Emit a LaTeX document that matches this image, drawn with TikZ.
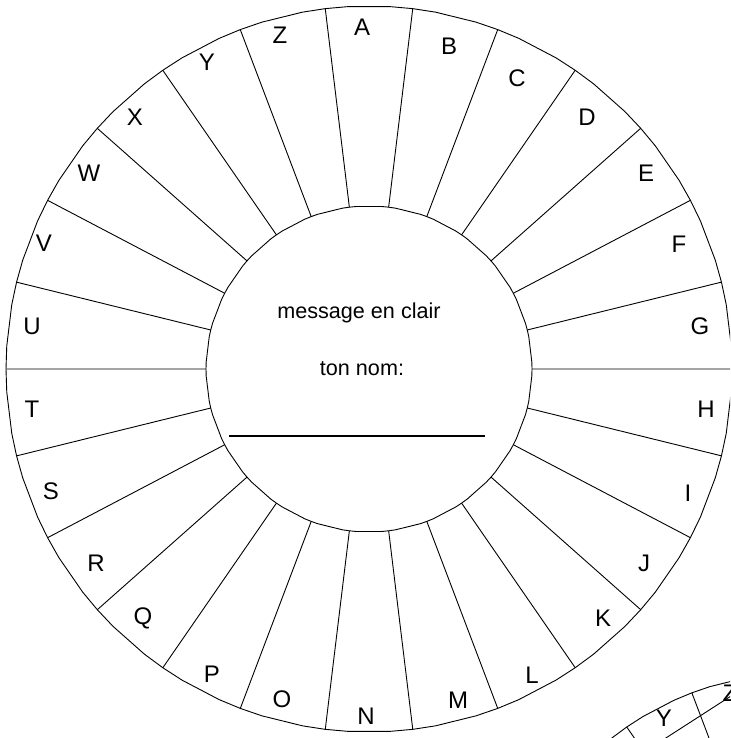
\documentclass[tikz,border=0pt]{standalone}
\usepackage{fontspec}
\setmainfont{Liberation Sans}
\begin{document}
\begin{tikzpicture}[x=1pt,y=1pt,line width=0.9pt,
  letter/.style={font=\fontsize{24}{24}\selectfont,inner sep=0pt},
  msg/.style={font=\fontsize{21.6}{22}\selectfont,inner sep=0pt}]
\useasboundingbox (0,0) rectangle (730,738);
\clip (0,0) rectangle (730,738);
% ---------- wheel 1 ----------
\begin{scope}[shift={(369,369)}]
  \draw (96.923:363) \foreach \k in {0,...,25}{
      -- ({96.923-\k*13.846-3.62}:363) -- ({96.923-\k*13.846-10.22}:363)
      -- ({96.923-(\k+1)*13.846}:363)} -- cycle;
  \draw (96.923:163) \foreach \k in {0,...,25}{
      -- ({96.923-\k*13.846-2.42}:163) -- ({96.923-\k*13.846-11.42}:163)
      -- ({96.923-(\k+1)*13.846}:163)} -- cycle;
  \foreach \k in {0,...,25}{
    \draw ({96.923-\k*13.846}:163) -- ({96.923-\k*13.846}:363);
  }
\end{scope}
\foreach \l/\x/\y in {A/362/711,B/449/692,C/517/660,D/587/621,E/646/565,
  F/679/494,G/700/412,H/706/329,I/688/245,J/644/175,K/603/120,L/532/63,
  M/458/38,N/366/22,O/282/39,P/212/64,Q/143/120,R/96/175,S/51/247,
  T/32/329,U/32/412,V/44/495,W/89/565,X/135/621,Y/207/676,Z/280/703}{
  \node[letter] (w1\l) at (\x,\y) {\l};
}
\node[msg] (clair) at (359,425) {message en clair};
\node[msg] (nom) at (362,369) {ton nom:};
\coordinate (lineL) at (229,302);
\coordinate (lineR) at (485,302);
\draw[line width=1.3pt] (lineL) -- (lineR);
% ---------- wheel 2 (partial) ----------
\begin{scope}[shift={(800,-240)}]
  \draw (96.923:305) \foreach \k in {-4,...,3}{
      -- ({96.923-\k*13.846-3.62}:305) -- ({96.923-\k*13.846-10.22}:305)
      -- ({96.923-(\k+1)*13.846}:305)};
  \foreach \k in {-4,...,4}{
    \draw ({96.923-\k*13.846}:137) -- ({96.923-\k*13.846}:305);
  }
  \node[letter] (w2Z) at (103.846:293) {Z};
  \node[letter] (w2Y) at (117.692:293) {Y};
\end{scope}
\end{tikzpicture}
\end{document}
